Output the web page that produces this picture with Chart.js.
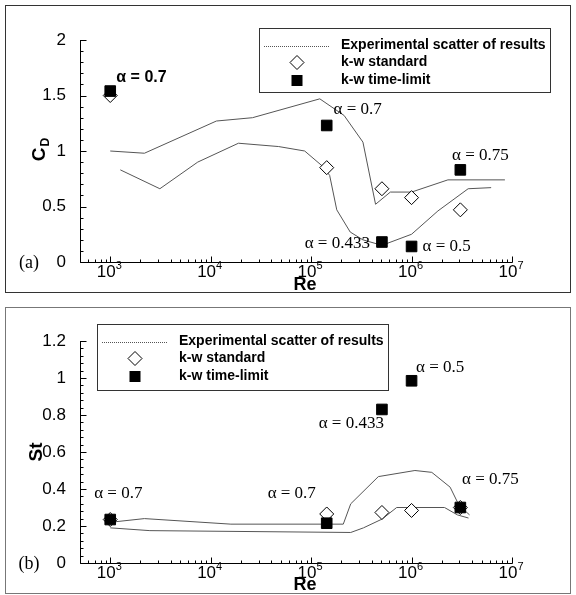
<!DOCTYPE html>
<html><head><meta charset="utf-8">
<script src="https://cdn.jsdelivr.net/npm/chart.js@4.4.1/dist/chart.umd.min.js"></script>
<style>
body{margin:0;background:#fff;width:576px;height:595px;overflow:hidden;position:relative}
.frame{position:absolute;border:1px solid #333;box-sizing:border-box}
.wrap{position:absolute;left:0;width:576px}
</style></head><body>
<div class="frame" style="left:5px;top:5px;width:566px;height:288px"></div>
<div class="frame" style="left:5px;top:307px;width:566px;height:287px;border-color:#777"></div>
<div class="wrap" style="top:0;height:300px"><canvas id="ca"></canvas></div>
<div class="wrap" style="top:300px;height:295px"><canvas id="cb"></canvas></div>
<script>
// ---------- data ----------
const reSim = [1000, 143000, 507000, 1000000, 3060000];

// panel (a): drag coefficient
const cdUpperRe = [1000, 2190, 11400, 26100, 122000, 213000, 328000, 438000, 615000, 1000000, 2300000, 8500000];
const cdUpper   = [1.00, 0.98, 1.27, 1.30, 1.47, 1.32, 1.08, 0.52, 0.63, 0.63, 0.74, 0.74];
const cdLowerRe = [1260, 3120, 7430, 18900, 47500, 86300, 131000, 153000, 180000, 245000, 327000, 507000, 1000000, 1830000, 3660000, 6200000];
const cdLower   = [0.83, 0.66, 0.90, 1.07, 1.04, 1.00, 0.86, 0.78, 0.47, 0.27, 0.20, 0.15, 0.25, 0.46, 0.66, 0.67];
const cdStandard  = [1.50, 0.85, 0.66, 0.58, 0.47];
const cdTimeLimit = [1.54, 1.23, 0.18, 0.14, 0.83];

// panel (b): Strouhal number
const stUpperRe = [1000, 2190, 15900, 209000, 248000, 467000, 1080000, 1590000, 2420000, 2980000, 3780000];
const stUpper   = [0.22, 0.24, 0.21, 0.21, 0.32, 0.467, 0.50, 0.49, 0.41, 0.31, 0.26];
const stLowerRe = [1000, 2480, 248000, 332000, 507000, 711000, 2130000, 2860000, 3690000];
const stLower   = [0.19, 0.175, 0.165, 0.19, 0.237, 0.30, 0.30, 0.26, 0.243];
const stStandard  = [0.235, 0.265, 0.273, 0.284, 0.30];
const stTimeLimit = [0.235, 0.215, 0.83, 0.985, 0.30];

const xDecades = [3, 4, 5, 6, 7];
const legendLabels = ['Experimental scatter of results', 'k-w standard', 'k-w time-limit'];

// annotations: text, Re, value, bold
const cdNotes = [
  ['α = 0.7', 1150, 1.664, true],
  ['α = 0.7', 167000, 1.378, false],
  ['α = 0.75', 2530000, 0.963, false],
  ['α = 0.433', 86300, 0.166, false],
  ['α = 0.5', 1285000, 0.142, false]
];
const stNotes = [
  ['α = 0.7', 692, 0.374, false],
  ['α = 0.7', 36900, 0.374, false],
  ['α = 0.433', 119000, 0.755, false],
  ['α = 0.5', 1107000, 1.054, false],
  ['α = 0.75', 3180000, 0.453, false]
];

const SANS = '"Liberation Sans", Arial, sans-serif';
const SERIF = '"Liberation Serif", "Times New Roman", serif';
const pts = (xs, ys) => xs.map((v, i) => ({x: v, y: ys[i]}));

function decor(o) {
  return {
    id: 'decor',
    afterDraw(chart) {
      const {ctx, chartArea: ca, scales: {x, y}} = chart;
      ctx.save();
      ctx.strokeStyle = '#000';
      ctx.fillStyle = '#000';
      ctx.lineWidth = 1;
      const L = Math.round(ca.left) + 0.5, B = Math.round(ca.bottom) + 0.5;
      // axes
      ctx.beginPath();
      ctx.moveTo(L, Math.round(ca.top));
      ctx.lineTo(L, B);
      ctx.lineTo(Math.round(ca.right) + 0.5, B);
      ctx.stroke();
      // x ticks (inward)
      ctx.beginPath();
      for (let d = 2; d <= 7; d++) {
        for (let m = 1; m <= 9; m++) {
          const v = m * Math.pow(10, d);
          if (v < x.min || v > x.max * 1.0001) continue;
          const px = Math.round(x.getPixelForValue(v)) + 0.5;
          const len = m === 1 ? 6 : 3;
          ctx.moveTo(px, B); ctx.lineTo(px, B - len);
        }
      }
      // y ticks (inward)
      const n = Math.round(y.max / o.minor);
      for (let i = 0; i <= n; i++) {
        const v = i * o.minor;
        const py = Math.round(y.getPixelForValue(v)) + 0.5;
        const major = (i % o.per) === 0;
        ctx.moveTo(L, py); ctx.lineTo(L + (major ? 6 : 3), py);
      }
      ctx.stroke();
      // x tick labels 10^n
      ctx.textBaseline = 'middle';
      for (const d of xDecades) {
        const px = x.getPixelForValue(Math.pow(10, d));
        ctx.font = '17px ' + SANS;
        const w1 = ctx.measureText('10').width;
        ctx.font = '11px ' + SANS;
        const w2 = ctx.measureText(String(d)).width;
        const left = px - (w1 + w2) / 2 - 1;
        ctx.font = '17px ' + SANS;
        ctx.textAlign = 'left';
        ctx.fillText('10', left, B + 10);
        ctx.font = '11px ' + SANS;
        ctx.fillText(String(d), left + w1, B + 3);
      }
      // axis titles
      ctx.font = 'bold 18px ' + SANS;
      ctx.textAlign = 'center';
      ctx.fillText('Re', o.reX, B + o.reDy);
      ctx.save();
      ctx.translate(o.yTitleX, o.yTitleY);
      ctx.rotate(-Math.PI / 2);
      ctx.textAlign = 'left';
      ctx.font = 'bold 19px ' + SANS;
      const tw = ctx.measureText(o.yTitle).width;
      let sw = 0;
      if (o.ySub) { ctx.font = 'bold 12px ' + SANS; sw = ctx.measureText(o.ySub).width; }
      ctx.font = 'bold 19px ' + SANS;
      ctx.fillText(o.yTitle, -(tw + sw) / 2, 0);
      if (o.ySub) { ctx.font = 'bold 12px ' + SANS; ctx.fillText(o.ySub, -(tw + sw) / 2 + tw + 1, 6); }
      ctx.restore();
      // panel label
      ctx.font = '18px ' + SERIF;
      ctx.textAlign = 'center';
      ctx.fillText(o.panel, 29, B + 1);
      // annotations
      ctx.textAlign = 'left';
      for (const [t, re, v, bold] of o.notes) {
        ctx.font = bold ? 'bold 16px ' + SANS : '17px ' + SERIF;
        ctx.fillText(t, x.getPixelForValue(re), y.getPixelForValue(v));
      }
      // legend
      const lb = o.legend;
      ctx.strokeStyle = '#333';
      ctx.strokeRect(Math.round(lb.x) + 0.5, Math.round(lb.y) + 0.5, lb.w, lb.h);
      const rows = [17.5, 34.5, 52.5];
      ctx.strokeStyle = '#555';
      ctx.setLineDash([1, 1]);
      ctx.beginPath();
      ctx.moveTo(lb.x + 5, Math.round(lb.y + rows[0]) + 0.5);
      ctx.lineTo(lb.x + 71, Math.round(lb.y + rows[0]) + 0.5);
      ctx.stroke();
      ctx.setLineDash([]);
      // diamond
      const mx = lb.x + 38, my1 = lb.y + rows[1], my2 = lb.y + rows[2];
      ctx.strokeStyle = '#000';
      ctx.fillStyle = '#fff';
      ctx.beginPath();
      ctx.moveTo(mx - 7, my1); ctx.lineTo(mx, my1 - 7); ctx.lineTo(mx + 7, my1); ctx.lineTo(mx, my1 + 7); ctx.closePath();
      ctx.fill(); ctx.stroke();
      ctx.fillStyle = '#000';
      ctx.fillRect(mx - 5.5, my2 - 5.5, 11, 11);
      ctx.font = 'bold 14px ' + SANS;
      ctx.textBaseline = 'middle';
      legendLabels.forEach((t, i) => ctx.fillText(t, lb.x + 82, lb.y + rows[i]));
      ctx.restore();
    }
  };
}

function makeChart(id, o) {
  return new Chart(document.getElementById(id), {
    data: {
      datasets: [
        {type: 'scatter', data: pts(reSim, o.tl), pointStyle: 'rect', pointRadius: 7.5, backgroundColor: '#000', borderColor: '#000', borderWidth: 1, clip: false},
        {type: 'scatter', data: pts(reSim, o.std), pointStyle: 'rectRot', pointRadius: 7, backgroundColor: '#fff', borderColor: '#000', borderWidth: 1, clip: false},
        {type: 'line', data: pts(o.upRe, o.up), borderColor: '#555', borderWidth: 1, pointRadius: 0, tension: 0, fill: false},
        {type: 'line', data: pts(o.loRe, o.lo), borderColor: '#555', borderWidth: 1, pointRadius: 0, tension: 0, fill: false}
      ]
    },
    options: {
      responsive: true, maintainAspectRatio: false, animation: false,
      events: [],
      layout: {padding: {left: 0, top: o.padTop, right: 64, bottom: 0}},
      plugins: {legend: {display: false}, tooltip: {enabled: false}},
      scales: {
        x: {type: 'logarithmic', min: 500, max: 1e7, grid: {display: false}, border: {display: false},
            ticks: {display: false}, afterFit: s => { s.height = o.xH; }},
        y: {type: 'linear', min: 0, max: o.ymax, grid: {display: false}, border: {display: false},
            ticks: {stepSize: o.step, color: '#000', padding: 6, font: {family: SANS, size: 17},
                    callback: v => String(Math.round(v * 100) / 100)},
            afterFit: s => { s.width = 80; }}
      }
    },
    plugins: [decor(o)]
  });
}

makeChart('ca', {
  tl: cdTimeLimit, std: cdStandard, upRe: cdUpperRe, up: cdUpper, loRe: cdLowerRe, lo: cdLower,
  padTop: 40, xH: 38, ymax: 2, step: 0.5, minor: 0.1, per: 5,
  yTitle: 'C', ySub: 'D', yTitleX: 40, yTitleY: 150, reX: 305, reDy: 23,
  panel: '(a)', notes: cdNotes, legend: {x: 259, y: 28, w: 291, h: 64}
});
makeChart('cb', {
  tl: stTimeLimit, std: stStandard, upRe: stUpperRe, up: stUpper, loRe: stLowerRe, lo: stLower,
  padTop: 41, xH: 32, ymax: 1.2, step: 0.2, minor: 0.04, per: 5,
  yTitle: 'St', ySub: '', yTitleX: 37, yTitleY: 152, reX: 305, reDy: 22,
  panel: '(b)', notes: stNotes, legend: {x: 97, y: 24, w: 291, h: 66}
});
</script>
</body></html>
